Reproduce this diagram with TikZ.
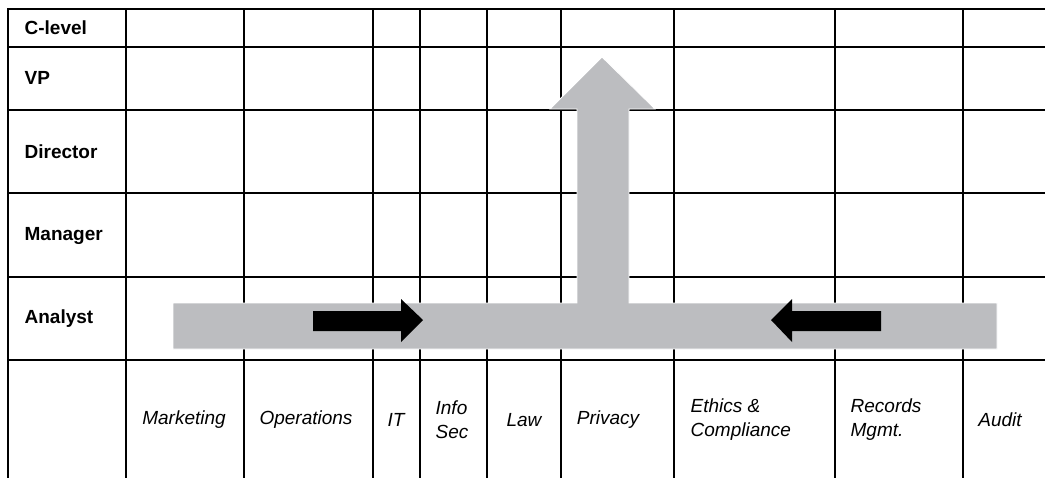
\documentclass[tikz,border=0pt]{standalone}
\usepackage{fontspec}
\setmainfont{Liberation Sans}
\definecolor{luongxam}{RGB}{188,189,192}

\begin{document}
\begin{tikzpicture}[x=1pt, y=-1pt, line width=1.3pt,
	caplabel/.style={anchor=west, inner sep=0pt, font=\fontsize{19}{22}\selectfont\bfseries},
	phongban/.style={inner sep=0pt, align=left, font=\fontsize{19}{24}\selectfont\itshape}]
	\useasboundingbox (0,0) rectangle (1045,477);
	% Lưới bảng: các hàng cấp bậc và các cột phòng ban
	\foreach \y in {9, 47, 110, 193, 277, 360} {
		\draw[line cap=rect] (8,\y) -- (1045,\y);
	}
	\foreach \x in {8, 126, 244, 373, 420, 487, 561, 674, 835, 963} {
		\draw[line cap=rect] (\x,9) -- (\x,477);
	}
	% Tên các cấp bậc
	\node[caplabel] (clevel) at (24,28) {C-level};
	\node[caplabel] (vp) at (24,78) {VP};
	\node[caplabel] (director) at (24,152) {Director};
	\node[caplabel] (manager) at (24,236) {Manager};
	\node[caplabel] (analyst) at (24,319) {Analyst};
	% Tên các phòng ban
	\node[phongban] (marketing) at (184,420) {Marketing};
	\node[phongban] (operations) at (306,420) {Operations};
	\node[phongban] (it) at (396,420) {IT};
	\node[phongban, anchor=west] (infosec) at (435,420) {Info\\Sec};
	\node[phongban] (law) at (524,420) {Law};
	\node[phongban] (privacy) at (608,420) {Privacy};
	\node[phongban, anchor=west] (ethics) at (690,420) {Ethics \&\\Compliance};
	\node[phongban, anchor=west] (records) at (850,420) {Records\\Mgmt.};
	\node[phongban] (audit) at (1000,420) {Audit};
	% Mũi tên xám hình chữ T đi lên
	\fill[luongxam, draw=white, line width=0.8pt] (173,303) -- (577,303) -- (577,109) -- (550,109) -- (602,57)
		-- (655,109) -- (629,109) -- (629,303) -- (997,303) -- (997,349) -- (173,349) -- cycle;
	% Hai mũi tên đen hướng vào giữa
	\fill[black] (313,311) -- (401,311) -- (401,299) -- (423,320) -- (401,342) -- (401,331) -- (313,331) -- cycle;
	\fill[black] (881,311) -- (792,311) -- (792,299) -- (771,320) -- (792,342) -- (792,331) -- (881,331) -- cycle;
\end{tikzpicture}
\end{document}
